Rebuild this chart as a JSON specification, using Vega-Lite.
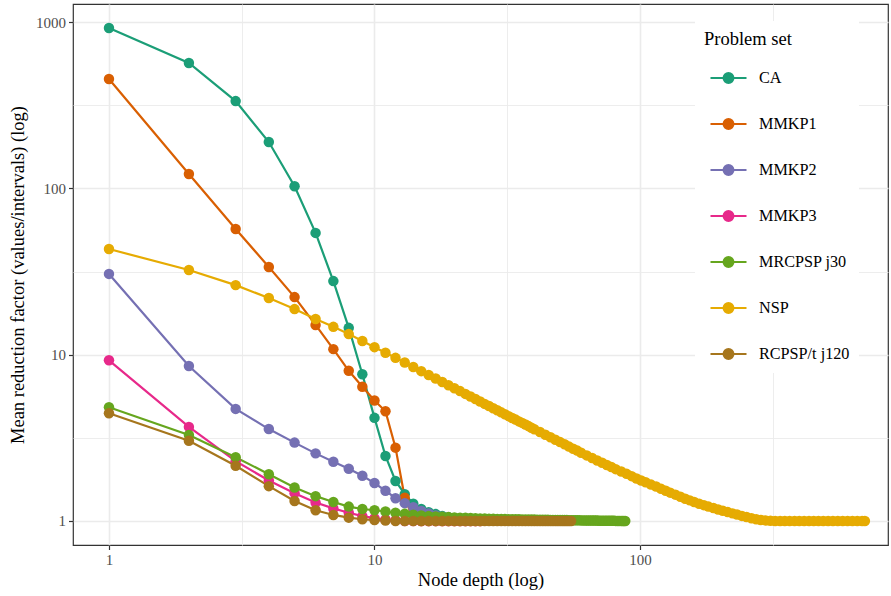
{
"$schema": "https://vega.github.io/schema/vega-lite/v6.json",
"width": 815, "height": 541,
"autosize": {"type": "none"},
"padding": {"left": 73, "top": 4, "right": 3, "bottom": 51},
"background": "white",
"config": {
  "font": "Liberation Serif",
  "view": {"stroke": "#333333", "strokeWidth": 1.2},
  "axis": {"domain": false, "grid": true, "gridColor": "#EBEBEB", "tickColor": "#333333", "tickSize": 4.5, "tickWidth": 1.2, "labelFont": "Liberation Serif", "labelFontSize": 15, "labelColor": "#4D4D4D", "labelPadding": 3, "titleFont": "Liberation Serif", "titleFontSize": 18.5, "titleFontWeight": "normal", "titleColor": "#000000"}
},
"data": {"values": [
{"set":"CA","depth":1,"factor":922},{"set":"CA","depth":2,"factor":568},{"set":"CA","depth":3,"factor":335},{"set":"CA","depth":4,"factor":190},{"set":"CA","depth":5,"factor":103},{"set":"CA","depth":6,"factor":54},{"set":"CA","depth":7,"factor":27.7},{"set":"CA","depth":8,"factor":14.5},{"set":"CA","depth":9,"factor":7.62},{"set":"CA","depth":10,"factor":4.17},{"set":"CA","depth":11,"factor":2.46},{"set":"CA","depth":12,"factor":1.74},{"set":"CA","depth":13,"factor":1.45},{"set":"CA","depth":14,"factor":1.27},{"set":"CA","depth":15,"factor":1.18},{"set":"CA","depth":16,"factor":1.13},{"set":"CA","depth":17,"factor":1.1},{"set":"CA","depth":18,"factor":1.07},{"set":"CA","depth":19,"factor":1.05},{"set":"CA","depth":20,"factor":1.04},{"set":"CA","depth":21,"factor":1.035},{"set":"CA","depth":22,"factor":1.03},{"set":"CA","depth":23,"factor":1.025},{"set":"CA","depth":24,"factor":1.02},{"set":"CA","depth":25,"factor":1.02},{"set":"CA","depth":26,"factor":1.015},{"set":"CA","depth":27,"factor":1.015},{"set":"CA","depth":28,"factor":1.01},{"set":"CA","depth":29,"factor":1.01},{"set":"CA","depth":30,"factor":1.01},
{"set":"MMKP1","depth":1,"factor":455},{"set":"MMKP1","depth":2,"factor":122},{"set":"MMKP1","depth":3,"factor":57},{"set":"MMKP1","depth":4,"factor":33.7},{"set":"MMKP1","depth":5,"factor":22.2},{"set":"MMKP1","depth":6,"factor":15.1},{"set":"MMKP1","depth":7,"factor":10.8},{"set":"MMKP1","depth":8,"factor":8.0},{"set":"MMKP1","depth":9,"factor":6.42},{"set":"MMKP1","depth":10,"factor":5.3},{"set":"MMKP1","depth":11,"factor":4.57},{"set":"MMKP1","depth":12,"factor":2.76},{"set":"MMKP1","depth":13,"factor":1.38},{"set":"MMKP1","depth":14,"factor":1.02},{"set":"MMKP1","depth":15,"factor":1.0},{"set":"MMKP1","depth":16,"factor":1.0},{"set":"MMKP1","depth":17,"factor":1.0},{"set":"MMKP1","depth":18,"factor":1.0},{"set":"MMKP1","depth":19,"factor":1.0},{"set":"MMKP1","depth":20,"factor":1.0},{"set":"MMKP1","depth":21,"factor":1.0},{"set":"MMKP1","depth":22,"factor":1.0},{"set":"MMKP1","depth":23,"factor":1.0},{"set":"MMKP1","depth":24,"factor":1.0},{"set":"MMKP1","depth":25,"factor":1.0},
{"set":"MMKP2","depth":1,"factor":30.6},{"set":"MMKP2","depth":2,"factor":8.55},{"set":"MMKP2","depth":3,"factor":4.72},{"set":"MMKP2","depth":4,"factor":3.57},{"set":"MMKP2","depth":5,"factor":2.96},{"set":"MMKP2","depth":6,"factor":2.55},{"set":"MMKP2","depth":7,"factor":2.27},{"set":"MMKP2","depth":8,"factor":2.06},{"set":"MMKP2","depth":9,"factor":1.87},{"set":"MMKP2","depth":10,"factor":1.69},{"set":"MMKP2","depth":11,"factor":1.52},{"set":"MMKP2","depth":12,"factor":1.37},{"set":"MMKP2","depth":13,"factor":1.28},{"set":"MMKP2","depth":14,"factor":1.21},{"set":"MMKP2","depth":15,"factor":1.15},{"set":"MMKP2","depth":16,"factor":1.11},{"set":"MMKP2","depth":17,"factor":1.08},{"set":"MMKP2","depth":18,"factor":1.06},{"set":"MMKP2","depth":19,"factor":1.05},{"set":"MMKP2","depth":20,"factor":1.04},{"set":"MMKP2","depth":21,"factor":1.03},{"set":"MMKP2","depth":22,"factor":1.03},{"set":"MMKP2","depth":23,"factor":1.02},{"set":"MMKP2","depth":24,"factor":1.02},{"set":"MMKP2","depth":25,"factor":1.015},{"set":"MMKP2","depth":26,"factor":1.01},{"set":"MMKP2","depth":27,"factor":1.01},{"set":"MMKP2","depth":28,"factor":1.01},{"set":"MMKP2","depth":29,"factor":1.01},{"set":"MMKP2","depth":30,"factor":1.01},
{"set":"MMKP3","depth":1,"factor":9.25},{"set":"MMKP3","depth":2,"factor":3.68},{"set":"MMKP3","depth":3,"factor":2.29},{"set":"MMKP3","depth":4,"factor":1.75},{"set":"MMKP3","depth":5,"factor":1.47},{"set":"MMKP3","depth":6,"factor":1.29},{"set":"MMKP3","depth":7,"factor":1.19},{"set":"MMKP3","depth":8,"factor":1.12},{"set":"MMKP3","depth":9,"factor":1.07},{"set":"MMKP3","depth":10,"factor":1.04},{"set":"MMKP3","depth":11,"factor":1.02},{"set":"MMKP3","depth":12,"factor":1.01},{"set":"MMKP3","depth":13,"factor":1.0},{"set":"MMKP3","depth":14,"factor":1.0},{"set":"MMKP3","depth":15,"factor":1.0},{"set":"MMKP3","depth":16,"factor":1.0},{"set":"MMKP3","depth":17,"factor":1.0},{"set":"MMKP3","depth":18,"factor":1.0},{"set":"MMKP3","depth":19,"factor":1.0},{"set":"MMKP3","depth":20,"factor":1.0},{"set":"MMKP3","depth":21,"factor":1.0},{"set":"MMKP3","depth":22,"factor":1.0},{"set":"MMKP3","depth":23,"factor":1.0},{"set":"MMKP3","depth":24,"factor":1.0},{"set":"MMKP3","depth":25,"factor":1.0},
{"set":"MRCPSP j30","depth":1,"factor":4.83},{"set":"MRCPSP j30","depth":2,"factor":3.29},{"set":"MRCPSP j30","depth":3,"factor":2.42},{"set":"MRCPSP j30","depth":4,"factor":1.91},{"set":"MRCPSP j30","depth":5,"factor":1.59},{"set":"MRCPSP j30","depth":6,"factor":1.41},{"set":"MRCPSP j30","depth":7,"factor":1.3},{"set":"MRCPSP j30","depth":8,"factor":1.22},{"set":"MRCPSP j30","depth":9,"factor":1.18},{"set":"MRCPSP j30","depth":10,"factor":1.16},{"set":"MRCPSP j30","depth":11,"factor":1.14},{"set":"MRCPSP j30","depth":12,"factor":1.12},{"set":"MRCPSP j30","depth":13,"factor":1.105},{"set":"MRCPSP j30","depth":14,"factor":1.09},{"set":"MRCPSP j30","depth":15,"factor":1.08},{"set":"MRCPSP j30","depth":16,"factor":1.07},{"set":"MRCPSP j30","depth":17,"factor":1.065},{"set":"MRCPSP j30","depth":18,"factor":1.06},{"set":"MRCPSP j30","depth":19,"factor":1.055},{"set":"MRCPSP j30","depth":20,"factor":1.05},{"set":"MRCPSP j30","depth":21,"factor":1.047},{"set":"MRCPSP j30","depth":22,"factor":1.044},{"set":"MRCPSP j30","depth":23,"factor":1.041},{"set":"MRCPSP j30","depth":24,"factor":1.038},{"set":"MRCPSP j30","depth":25,"factor":1.036},{"set":"MRCPSP j30","depth":26,"factor":1.034},{"set":"MRCPSP j30","depth":27,"factor":1.032},{"set":"MRCPSP j30","depth":28,"factor":1.03},{"set":"MRCPSP j30","depth":29,"factor":1.029},{"set":"MRCPSP j30","depth":30,"factor":1.028},{"set":"MRCPSP j30","depth":31,"factor":1.027},{"set":"MRCPSP j30","depth":32,"factor":1.026},{"set":"MRCPSP j30","depth":33,"factor":1.025},{"set":"MRCPSP j30","depth":34,"factor":1.024},{"set":"MRCPSP j30","depth":35,"factor":1.023},{"set":"MRCPSP j30","depth":36,"factor":1.022},{"set":"MRCPSP j30","depth":37,"factor":1.021},{"set":"MRCPSP j30","depth":38,"factor":1.02},{"set":"MRCPSP j30","depth":39,"factor":1.02},{"set":"MRCPSP j30","depth":40,"factor":1.019},{"set":"MRCPSP j30","depth":41,"factor":1.018},{"set":"MRCPSP j30","depth":42,"factor":1.018},{"set":"MRCPSP j30","depth":43,"factor":1.017},{"set":"MRCPSP j30","depth":44,"factor":1.016},{"set":"MRCPSP j30","depth":45,"factor":1.016},{"set":"MRCPSP j30","depth":46,"factor":1.015},{"set":"MRCPSP j30","depth":47,"factor":1.015},{"set":"MRCPSP j30","depth":48,"factor":1.014},{"set":"MRCPSP j30","depth":49,"factor":1.014},{"set":"MRCPSP j30","depth":50,"factor":1.013},{"set":"MRCPSP j30","depth":51,"factor":1.013},{"set":"MRCPSP j30","depth":52,"factor":1.012},{"set":"MRCPSP j30","depth":53,"factor":1.012},{"set":"MRCPSP j30","depth":54,"factor":1.011},{"set":"MRCPSP j30","depth":55,"factor":1.011},{"set":"MRCPSP j30","depth":56,"factor":1.01},{"set":"MRCPSP j30","depth":57,"factor":1.01},{"set":"MRCPSP j30","depth":58,"factor":1.009},{"set":"MRCPSP j30","depth":59,"factor":1.009},{"set":"MRCPSP j30","depth":60,"factor":1.008},{"set":"MRCPSP j30","depth":61,"factor":1.008},{"set":"MRCPSP j30","depth":62,"factor":1.007},{"set":"MRCPSP j30","depth":63,"factor":1.007},{"set":"MRCPSP j30","depth":64,"factor":1.006},{"set":"MRCPSP j30","depth":65,"factor":1.006},{"set":"MRCPSP j30","depth":66,"factor":1.006},{"set":"MRCPSP j30","depth":67,"factor":1.005},{"set":"MRCPSP j30","depth":68,"factor":1.005},{"set":"MRCPSP j30","depth":69,"factor":1.005},{"set":"MRCPSP j30","depth":70,"factor":1.004},{"set":"MRCPSP j30","depth":71,"factor":1.004},{"set":"MRCPSP j30","depth":72,"factor":1.004},{"set":"MRCPSP j30","depth":73,"factor":1.003},{"set":"MRCPSP j30","depth":74,"factor":1.003},{"set":"MRCPSP j30","depth":75,"factor":1.003},{"set":"MRCPSP j30","depth":76,"factor":1.003},{"set":"MRCPSP j30","depth":77,"factor":1.002},{"set":"MRCPSP j30","depth":78,"factor":1.002},{"set":"MRCPSP j30","depth":79,"factor":1.002},{"set":"MRCPSP j30","depth":80,"factor":1.002},{"set":"MRCPSP j30","depth":81,"factor":1.001},{"set":"MRCPSP j30","depth":82,"factor":1.001},{"set":"MRCPSP j30","depth":83,"factor":1.001},{"set":"MRCPSP j30","depth":84,"factor":1.001},{"set":"MRCPSP j30","depth":85,"factor":1.001},{"set":"MRCPSP j30","depth":86,"factor":1.0},{"set":"MRCPSP j30","depth":87,"factor":1.0},{"set":"MRCPSP j30","depth":88,"factor":1.0},
{"set":"NSP","depth":1,"factor":43.2},{"set":"NSP","depth":2,"factor":32.3},{"set":"NSP","depth":3,"factor":26.2},{"set":"NSP","depth":4,"factor":21.9},{"set":"NSP","depth":5,"factor":18.8},{"set":"NSP","depth":6,"factor":16.4},{"set":"NSP","depth":7,"factor":14.7},{"set":"NSP","depth":8,"factor":13.3},{"set":"NSP","depth":9,"factor":12.1},{"set":"NSP","depth":10,"factor":11.1},{"set":"NSP","depth":11,"factor":10.28},{"set":"NSP","depth":12,"factor":9.57},{"set":"NSP","depth":13,"factor":8.97},{"set":"NSP","depth":14,"factor":8.43},{"set":"NSP","depth":15,"factor":7.96},{"set":"NSP","depth":16,"factor":7.55},{"set":"NSP","depth":17,"factor":7.19},{"set":"NSP","depth":18,"factor":6.85},{"set":"NSP","depth":19,"factor":6.55},{"set":"NSP","depth":20,"factor":6.28},{"set":"NSP","depth":21,"factor":6.04},{"set":"NSP","depth":22,"factor":5.81},{"set":"NSP","depth":23,"factor":5.6},{"set":"NSP","depth":24,"factor":5.41},{"set":"NSP","depth":25,"factor":5.23},{"set":"NSP","depth":26,"factor":5.06},{"set":"NSP","depth":27,"factor":4.91},{"set":"NSP","depth":28,"factor":4.76},{"set":"NSP","depth":29,"factor":4.63},{"set":"NSP","depth":30,"factor":4.5},{"set":"NSP","depth":31,"factor":4.38},{"set":"NSP","depth":32,"factor":4.27},{"set":"NSP","depth":33,"factor":4.16},{"set":"NSP","depth":34,"factor":4.07},{"set":"NSP","depth":35,"factor":3.97},{"set":"NSP","depth":36,"factor":3.89},{"set":"NSP","depth":37,"factor":3.8},{"set":"NSP","depth":38,"factor":3.72},{"set":"NSP","depth":39,"factor":3.64},{"set":"NSP","depth":40,"factor":3.56},{"set":"NSP","depth":42,"factor":3.43},{"set":"NSP","depth":44,"factor":3.3},{"set":"NSP","depth":46,"factor":3.19},{"set":"NSP","depth":48,"factor":3.08},{"set":"NSP","depth":50,"factor":2.98},{"set":"NSP","depth":52,"factor":2.89},{"set":"NSP","depth":54,"factor":2.8},{"set":"NSP","depth":56,"factor":2.72},{"set":"NSP","depth":58,"factor":2.65},{"set":"NSP","depth":60,"factor":2.57},{"set":"NSP","depth":63,"factor":2.48},{"set":"NSP","depth":66,"factor":2.39},{"set":"NSP","depth":69,"factor":2.31},{"set":"NSP","depth":72,"factor":2.24},{"set":"NSP","depth":75,"factor":2.17},{"set":"NSP","depth":78,"factor":2.11},{"set":"NSP","depth":81,"factor":2.05},{"set":"NSP","depth":85,"factor":1.985},{"set":"NSP","depth":89,"factor":1.92},{"set":"NSP","depth":93,"factor":1.86},{"set":"NSP","depth":97,"factor":1.8},{"set":"NSP","depth":101,"factor":1.75},{"set":"NSP","depth":105,"factor":1.71},{"set":"NSP","depth":110,"factor":1.655},{"set":"NSP","depth":115,"factor":1.61},{"set":"NSP","depth":120,"factor":1.56},{"set":"NSP","depth":125,"factor":1.52},{"set":"NSP","depth":130,"factor":1.48},{"set":"NSP","depth":136,"factor":1.44},{"set":"NSP","depth":142,"factor":1.4},{"set":"NSP","depth":148,"factor":1.36},{"set":"NSP","depth":154,"factor":1.33},{"set":"NSP","depth":160,"factor":1.3},{"set":"NSP","depth":167,"factor":1.27},{"set":"NSP","depth":174,"factor":1.245},{"set":"NSP","depth":181,"factor":1.22},{"set":"NSP","depth":189,"factor":1.196},{"set":"NSP","depth":197,"factor":1.171},{"set":"NSP","depth":205,"factor":1.152},{"set":"NSP","depth":214,"factor":1.131},{"set":"NSP","depth":223,"factor":1.111},{"set":"NSP","depth":232,"factor":1.093},{"set":"NSP","depth":242,"factor":1.073},{"set":"NSP","depth":252,"factor":1.056},{"set":"NSP","depth":263,"factor":1.039},{"set":"NSP","depth":274,"factor":1.024},{"set":"NSP","depth":285,"factor":1.012},{"set":"NSP","depth":297,"factor":1.007},{"set":"NSP","depth":310,"factor":1.002},{"set":"NSP","depth":323,"factor":1.0},{"set":"NSP","depth":337,"factor":1.0},{"set":"NSP","depth":351,"factor":1.0},{"set":"NSP","depth":366,"factor":1.0},{"set":"NSP","depth":382,"factor":1.0},{"set":"NSP","depth":398,"factor":1.0},{"set":"NSP","depth":415,"factor":1.0},{"set":"NSP","depth":433,"factor":1.0},{"set":"NSP","depth":451,"factor":1.0},{"set":"NSP","depth":470,"factor":1.0},{"set":"NSP","depth":490,"factor":1.0},{"set":"NSP","depth":511,"factor":1.0},{"set":"NSP","depth":533,"factor":1.0},{"set":"NSP","depth":556,"factor":1.0},{"set":"NSP","depth":580,"factor":1.0},{"set":"NSP","depth":605,"factor":1.0},{"set":"NSP","depth":631,"factor":1.0},{"set":"NSP","depth":658,"factor":1.0},{"set":"NSP","depth":686,"factor":1.0},{"set":"NSP","depth":703,"factor":1.0},
{"set":"RCPSP/t j120","depth":1,"factor":4.44},{"set":"RCPSP/t j120","depth":2,"factor":3.04},{"set":"RCPSP/t j120","depth":3,"factor":2.15},{"set":"RCPSP/t j120","depth":4,"factor":1.62},{"set":"RCPSP/t j120","depth":5,"factor":1.32},{"set":"RCPSP/t j120","depth":6,"factor":1.16},{"set":"RCPSP/t j120","depth":7,"factor":1.087},{"set":"RCPSP/t j120","depth":8,"factor":1.047},{"set":"RCPSP/t j120","depth":9,"factor":1.024},{"set":"RCPSP/t j120","depth":10,"factor":1.012},{"set":"RCPSP/t j120","depth":11,"factor":1.006},{"set":"RCPSP/t j120","depth":12,"factor":1.0},{"set":"RCPSP/t j120","depth":13,"factor":1.0},{"set":"RCPSP/t j120","depth":14,"factor":1.0},{"set":"RCPSP/t j120","depth":15,"factor":1.0},{"set":"RCPSP/t j120","depth":16,"factor":1.0},{"set":"RCPSP/t j120","depth":17,"factor":1.0},{"set":"RCPSP/t j120","depth":18,"factor":1.0},{"set":"RCPSP/t j120","depth":19,"factor":1.0},{"set":"RCPSP/t j120","depth":20,"factor":1.0},{"set":"RCPSP/t j120","depth":21,"factor":1.0},{"set":"RCPSP/t j120","depth":22,"factor":1.0},{"set":"RCPSP/t j120","depth":23,"factor":1.0},{"set":"RCPSP/t j120","depth":24,"factor":1.0},{"set":"RCPSP/t j120","depth":25,"factor":1.0},{"set":"RCPSP/t j120","depth":26,"factor":1.0},{"set":"RCPSP/t j120","depth":27,"factor":1.0},{"set":"RCPSP/t j120","depth":28,"factor":1.0},{"set":"RCPSP/t j120","depth":29,"factor":1.0},{"set":"RCPSP/t j120","depth":30,"factor":1.0},{"set":"RCPSP/t j120","depth":31,"factor":1.0},{"set":"RCPSP/t j120","depth":32,"factor":1.0},{"set":"RCPSP/t j120","depth":33,"factor":1.0},{"set":"RCPSP/t j120","depth":34,"factor":1.0},{"set":"RCPSP/t j120","depth":35,"factor":1.0},{"set":"RCPSP/t j120","depth":36,"factor":1.0},{"set":"RCPSP/t j120","depth":37,"factor":1.0},{"set":"RCPSP/t j120","depth":38,"factor":1.0},{"set":"RCPSP/t j120","depth":39,"factor":1.0},{"set":"RCPSP/t j120","depth":40,"factor":1.0},{"set":"RCPSP/t j120","depth":41,"factor":1.0},{"set":"RCPSP/t j120","depth":42,"factor":1.0},{"set":"RCPSP/t j120","depth":43,"factor":1.0},{"set":"RCPSP/t j120","depth":44,"factor":1.0},{"set":"RCPSP/t j120","depth":45,"factor":1.0},{"set":"RCPSP/t j120","depth":46,"factor":1.0},{"set":"RCPSP/t j120","depth":47,"factor":1.0},{"set":"RCPSP/t j120","depth":48,"factor":1.0},{"set":"RCPSP/t j120","depth":49,"factor":1.0},{"set":"RCPSP/t j120","depth":50,"factor":1.0},{"set":"RCPSP/t j120","depth":51,"factor":1.0},{"set":"RCPSP/t j120","depth":52,"factor":1.0},{"set":"RCPSP/t j120","depth":53,"factor":1.0},{"set":"RCPSP/t j120","depth":54,"factor":1.0},{"set":"RCPSP/t j120","depth":55,"factor":1.0}
]},
"encoding": {
  "x": {"field": "depth", "type": "quantitative", "title": "Node depth (log)",
    "scale": {"type": "log", "domain": [0.732, 859], "nice": false},
    "axis": {"values": [1, 3.16228, 10, 31.6228, 100, 316.228], "format": "d", "titlePadding": 3,
      "labelExpr": "datum.value == 1 || datum.value == 10 || datum.value == 100 ? datum.label : ''",
      "gridWidth": {"condition": {"test": "datum.value == 1 || datum.value == 10 || datum.value == 100", "value": 1.6}, "value": 0.9},
      "tickOpacity": {"condition": {"test": "datum.value == 1 || datum.value == 10 || datum.value == 100", "value": 1}, "value": 0}}},
  "y": {"field": "factor", "type": "quantitative", "title": "Mean reduction factor (values/intervals) (log)",
    "scale": {"type": "log", "domain": [0.717, 1285], "nice": false},
    "axis": {"values": [1, 3.16228, 10, 31.6228, 100, 316.228, 1000], "format": "d", "titlePadding": 8,
      "labelExpr": "datum.value == 1 || datum.value == 10 || datum.value == 100 || datum.value == 1000 ? datum.label : ''",
      "gridWidth": {"condition": {"test": "datum.value == 1 || datum.value == 10 || datum.value == 100 || datum.value == 1000", "value": 1.6}, "value": 0.9},
      "tickOpacity": {"condition": {"test": "datum.value == 1 || datum.value == 10 || datum.value == 100 || datum.value == 1000", "value": 1}, "value": 0}}},
  "color": {"field": "set", "type": "nominal",
    "scale": {"domain": ["CA", "MMKP1", "MMKP2", "MMKP3", "MRCPSP j30", "NSP", "RCPSP/t j120"],
              "range": ["#1B9E77", "#D95F02", "#7570B3", "#E7298A", "#66A61E", "#E6AB02", "#A6761D"]},
    "legend": {"title": "Problem set", "orient": "none", "legendX": 622, "legendY": 17, "fillColor": "white", "padding": 9,
      "titleFont": "Liberation Serif", "titleFontSize": 18.5, "titleFontWeight": "normal", "titleColor": "#000000", "titlePadding": 10,
      "labelFont": "Liberation Serif", "labelFontSize": 16.2, "labelColor": "#000000", "labelOffset": 11,
      "symbolOffset": 5, "symbolSize": 1296, "symbolStrokeWidth": 2.2,
      "symbolType": "M-1,0H1M-0.27,0a0.27,0.27 0 1,0 0.54,0a0.27,0.27 0 1,0 -0.54,0",
      "rowPadding": 17,
      "encode": {"symbols": {"update": {"fill": {"scale": "color", "field": "value"}, "stroke": {"scale": "color", "field": "value"}, "opacity": {"value": 1}}}}}}
},
"layer": [
  {"mark": {"type": "line", "strokeWidth": 2.2}},
  {"mark": {"type": "point", "filled": true, "size": 110, "opacity": 1}}
]
}
